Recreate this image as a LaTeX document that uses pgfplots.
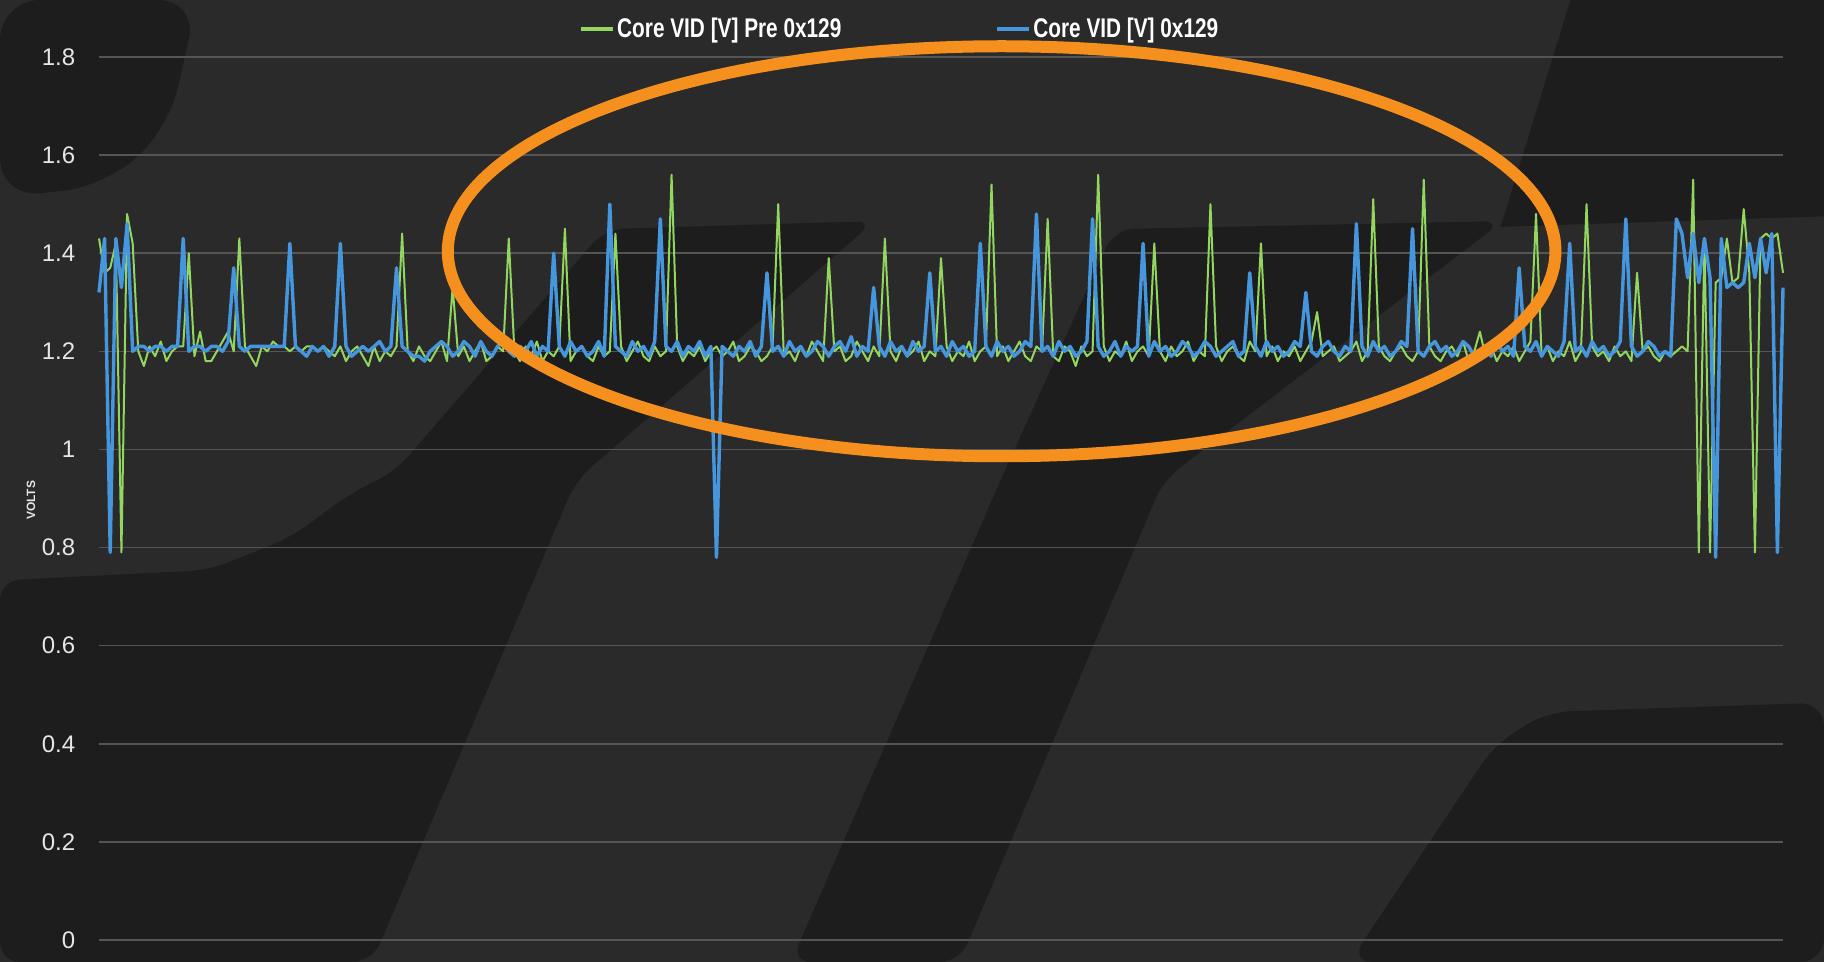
\documentclass[border=0pt]{standalone}
\usepackage{pgfplots}
\usepackage{pgfplotstable}
\pgfplotsset{compat=1.18}
\usepackage{fontspec}
\setmainfont{Liberation Sans}
\definecolor{bgl}{HTML}{2A2A2A}
\definecolor{bgd}{HTML}{1D1D1D}
\definecolor{gridc}{HTML}{555555}
\definecolor{vgreen}{RGB}{146,214,96}
\definecolor{vblue}{RGB}{70,150,222}
\definecolor{ring}{HTML}{F5901F}
\definecolor{txt}{HTML}{E6E6E6}

\pgfplotstableread{
g b
1.43 1.32
1.36 1.43
1.37 0.79
1.42 1.43
0.79 1.33
1.48 1.46
1.42 1.20
1.20 1.21
1.17 1.21
1.21 1.20
1.19 1.21
1.22 1.21
1.18 1.20
1.20 1.21
1.21 1.21
1.21 1.43
1.40 1.20
1.19 1.21
1.24 1.21
1.18 1.20
1.18 1.21
1.20 1.21
1.22 1.20
1.24 1.22
1.20 1.37
1.43 1.21
1.21 1.20
1.19 1.21
1.17 1.21
1.21 1.21
1.20 1.21
1.22 1.21
1.21 1.21
1.21 1.21
1.20 1.42
1.21 1.21
1.20 1.20
1.21 1.19
1.21 1.21
1.20 1.20
1.21 1.21
1.20 1.19
1.19 1.21
1.21 1.42
1.18 1.21
1.20 1.19
1.21 1.20
1.19 1.21
1.17 1.20
1.21 1.21
1.18 1.22
1.20 1.20
1.19 1.21
1.21 1.37
1.44 1.21
1.20 1.20
1.18 1.19
1.21 1.19
1.19 1.18
1.18 1.20
1.20 1.21
1.22 1.22
1.18 1.21
1.33 1.19
1.19 1.20
1.21 1.22
1.18 1.21
1.20 1.19
1.22 1.22
1.18 1.20
1.19 1.19
1.21 1.21
1.20 1.22
1.43 1.20
1.20 1.19
1.18 1.21
1.21 1.20
1.19 1.22
1.22 1.19
1.18 1.21
1.20 1.20
1.19 1.40
1.21 1.21
1.45 1.19
1.18 1.22
1.20 1.20
1.21 1.21
1.19 1.19
1.18 1.20
1.21 1.22
1.19 1.19
1.20 1.50
1.44 1.21
1.21 1.20
1.18 1.19
1.20 1.22
1.22 1.20
1.19 1.21
1.18 1.19
1.21 1.22
1.19 1.47
1.20 1.21
1.56 1.20
1.21 1.22
1.18 1.19
1.20 1.21
1.19 1.20
1.21 1.22
1.18 1.19
1.20 1.21
1.21 0.78
1.19 1.21
1.20 1.20
1.22 1.19
1.18 1.21
1.19 1.20
1.21 1.22
1.20 1.19
1.18 1.21
1.19 1.36
1.21 1.20
1.50 1.21
1.19 1.19
1.20 1.22
1.18 1.20
1.21 1.21
1.19 1.19
1.22 1.20
1.20 1.22
1.18 1.21
1.39 1.19
1.20 1.21
1.21 1.22
1.18 1.20
1.19 1.23
1.22 1.19
1.20 1.21
1.18 1.20
1.21 1.33
1.19 1.21
1.43 1.19
1.20 1.22
1.18 1.20
1.21 1.21
1.19 1.19
1.20 1.22
1.22 1.20
1.18 1.21
1.20 1.36
1.19 1.20
1.39 1.21
1.21 1.19
1.18 1.22
1.20 1.20
1.19 1.21
1.22 1.19
1.18 1.20
1.20 1.42
1.21 1.21
1.54 1.19
1.19 1.22
1.21 1.20
1.18 1.21
1.20 1.19
1.22 1.20
1.19 1.22
1.18 1.21
1.21 1.48
1.20 1.20
1.47 1.21
1.19 1.19
1.18 1.22
1.21 1.20
1.20 1.21
1.17 1.19
1.21 1.20
1.19 1.22
1.20 1.47
1.56 1.21
1.21 1.19
1.18 1.20
1.20 1.22
1.19 1.19
1.22 1.21
1.18 1.20
1.20 1.21
1.21 1.42
1.19 1.19
1.42 1.22
1.20 1.20
1.18 1.21
1.21 1.19
1.19 1.20
1.20 1.22
1.22 1.21
1.18 1.19
1.20 1.20
1.19 1.22
1.50 1.21
1.21 1.19
1.18 1.20
1.20 1.21
1.21 1.22
1.19 1.19
1.18 1.20
1.22 1.36
1.20 1.21
1.42 1.19
1.19 1.22
1.21 1.20
1.18 1.21
1.20 1.19
1.19 1.20
1.21 1.22
1.18 1.21
1.20 1.32
1.22 1.20
1.28 1.19
1.19 1.21
1.20 1.22
1.21 1.20
1.18 1.19
1.19 1.21
1.20 1.20
1.22 1.46
1.18 1.21
1.20 1.19
1.51 1.22
1.21 1.20
1.19 1.21
1.18 1.19
1.20 1.20
1.21 1.22
1.19 1.21
1.18 1.45
1.20 1.20
1.55 1.19
1.21 1.21
1.19 1.22
1.18 1.20
1.20 1.21
1.21 1.19
1.19 1.20
1.22 1.22
1.18 1.21
1.20 1.19
1.24 1.20
1.19 1.21
1.21 1.19
1.18 1.22
1.20 1.20
1.19 1.21
1.21 1.19
1.18 1.37
1.20 1.21
1.22 1.20
1.48 1.22
1.19 1.19
1.21 1.21
1.18 1.20
1.20 1.19
1.19 1.22
1.22 1.42
1.18 1.20
1.20 1.21
1.50 1.19
1.21 1.22
1.19 1.20
1.20 1.21
1.18 1.19
1.21 1.20
1.19 1.22
1.20 1.47
1.18 1.21
1.36 1.19
1.20 1.20
1.21 1.22
1.19 1.21
1.18 1.19
1.20 1.20
1.19 1.19
1.20 1.47
1.21 1.44
1.20 1.35
1.55 1.44
0.79 1.34
1.43 1.43
0.79 1.35
1.34 0.78
1.35 1.43
1.43 1.33
1.34 1.34
1.35 1.33
1.49 1.34
1.36 1.42
0.79 1.35
1.43 1.43
1.44 1.36
1.43 1.44
1.44 0.79
1.36 1.33
}\vid

\begin{document}
\begin{tikzpicture}
\path[use as bounding box] (0,0) rectangle (912pt,481pt);
\fill[bgl] (0,0) rectangle (912pt,481pt);
\begin{scope}[shift={(0pt,481pt)}, x=0.58163pt, y=-0.58163pt]
  \fill[bgd, rounded corners=10pt] (520,197) -- (752,190) -- (495,413) -- (320,827) -- (0,827) -- (0,499) -- (180,490) -- (250,462) -- (300,425) -- (340,405) -- cycle;
  \fill[bgd, rounded corners=10pt] (958,197) -- (1292,190) -- (1000,413) -- (825,827) -- (680,827) -- (860,413) -- cycle;
  \fill[bgd, rounded corners=12pt] (1568,604) -- (1330,612) -- (1285,640) -- (1160,827) -- (1568,827) -- cycle;
  \fill[bgd, rounded corners=20pt] (0,0) -- (170,0) -- (145,110) -- (90,160) -- (0,170) -- cycle;
  \fill[bgd] (1350,0) -- (1568,0) -- (1568,186) -- (1290,195) -- cycle;
\end{scope}
\begin{axis}[
  at={(49.5pt,11pt)}, anchor=south west,
  scale only axis, width=842pt, height=441.5pt,
  xmin=0, xmax=300, ymin=0, ymax=1.8,
  clip=false,
  axis line style={draw=none},
  xtick=\empty,
  ytick={0,0.2,0.4,0.6,0.8,1,1.2,1.4,1.6,1.8},
  major tick length=0pt,
  ymajorgrids, grid style={gridc, line width=0.8pt},
  /pgf/number format/assume math mode=true,
  yticklabel style={font=\fontsize{12}{14}\selectfont, text=txt, anchor=east, inner sep=0pt, xshift=-11.7pt},
  ylabel={VOLTS},
  ylabel style={at={(axis description cs:-0.0404,0.498)}, anchor=center, font=\bfseries\fontsize{6}{7}\selectfont, text=txt},
  legend columns=2,
  legend style={draw=none, fill=none, at={(axis description cs:0.4755,1.0317)}, anchor=center,
    font=\bfseries\fontsize{13.5}{16}\selectfont, text=white,
    /tikz/every even column/.append style={column sep=76pt},
    nodes={inner sep=1pt}},
  legend image code/.code={\draw[#1, line width=2pt] (0pt,0pt) -- (16pt,0pt);},
]
\addplot[vgreen, line width=1pt, line join=round] table[x expr=\coordindex, y=g] {\vid};
\addlegendentry{\scalebox{0.77}[1]{Core VID [V] Pre 0x129}}
\addplot[vblue, line width=1.7pt, line join=round] table[x expr=\coordindex, y=b] {\vid};
\addlegendentry{\scalebox{0.77}[1]{Core VID [V] 0x129}}
\draw[ring, line width=6pt] (axis cs:160.8,1.404) ellipse [x radius=276.9pt, y radius=102.5pt];
\end{axis}
\end{tikzpicture}
\end{document}
